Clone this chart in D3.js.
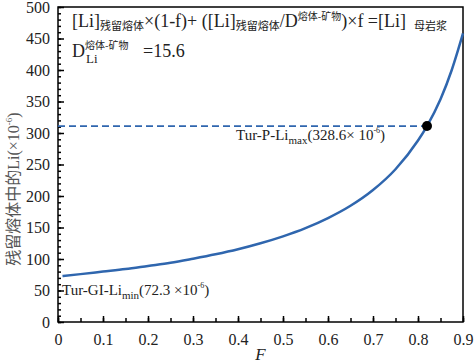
<!DOCTYPE html>
<html>
<head>
<meta charset="utf-8">
<script src="https://cdn.jsdelivr.net/npm/d3@7"></script>
<style>
  body { margin: 0; background: #fff; }
  svg text { font-family: "Liberation Serif", "Times New Roman", serif; }
  svg .cn { font-family: "Noto Sans CJK SC", sans-serif; }
</style>
</head>
<body>
<div id="chart"></div>
<script>
// curve
const fValues = [0.01, 0.05, 0.1, 0.15, 0.2, 0.25, 0.3, 0.35, 0.4, 0.45, 0.5, 0.55, 0.6, 0.65, 0.7, 0.75, 0.8, 0.82, 0.85, 0.875, 0.9];
const liValues = [73, 76, 80, 84, 89, 94, 100.5, 107.5, 115.5, 125, 136, 149, 165, 184.5, 209.5, 242.5, 288, 311, 353.5, 400, 458];
const maxPoint = { f: 0.82, li: 311 };
const xTicks = [0, 0.1, 0.2, 0.3, 0.4, 0.5, 0.6, 0.7, 0.8, 0.9];
const yTicks = [0, 50, 100, 150, 200, 250, 300, 350, 400, 450, 500];

const width = 474, height = 364;
const margin = { top: 7, right: 11, bottom: 42, left: 58 };
const blue = "#2f66ae";
const serif = "Liberation Serif";

const svg = d3.select("#chart").append("svg")
  .attr("width", width)
  .attr("height", height);

const x = d3.scaleLinear().domain([0, 0.9]).range([margin.left, width - margin.right]);
const y = d3.scaleLinear().domain([0, 500]).range([height - margin.bottom, margin.top]);

// frame
svg.append("rect")
  .attr("x", x(0)).attr("y", y(500))
  .attr("width", x(0.9) - x(0)).attr("height", y(0) - y(500))
  .attr("fill", "none").attr("stroke", "#000").attr("stroke-width", 1.5);

// x axis, ticks pointing inward
const xMinor = d3.range(0, 0.901, 0.05);
svg.append("g")
  .attr("transform", `translate(0,${y(0)})`)
  .call(d3.axisBottom(x).tickValues(xMinor).tickSize(-4).tickFormat(""))
  .call(g => g.select(".domain").remove());
svg.append("g")
  .attr("transform", `translate(0,${y(0)})`)
  .call(d3.axisBottom(x).tickValues(xTicks).tickSize(-6).tickPadding(12)
    .tickFormat(d => d === 0 ? "0" : d3.format(".1f")(d)))
  .attr("font-family", serif).attr("font-size", 16)
  .call(g => g.select(".domain").remove())
  .call(g => g.selectAll("text").attr("fill", "#222"));

// y axis
const yMinor = d3.range(0, 501, 10);
svg.append("g")
  .attr("transform", `translate(${x(0)},0)`)
  .call(d3.axisLeft(y).tickValues(yMinor).tickSize(-3).tickFormat(""))
  .call(g => g.select(".domain").remove());
svg.append("g")
  .attr("transform", `translate(${x(0)},0)`)
  .call(d3.axisLeft(y).tickValues(yTicks).tickSize(-6).tickPadding(8))
  .attr("font-family", serif).attr("font-size", 16)
  .call(g => g.select(".domain").remove())
  .call(g => g.selectAll("text").attr("fill", "#222"));
svg.selectAll(".tick line").attr("stroke", "#000").attr("stroke-width", 1.5);

// dashed level line to max point
svg.append("line")
  .attr("x1", x(0)).attr("x2", x(maxPoint.f))
  .attr("y1", y(maxPoint.li)).attr("y2", y(maxPoint.li))
  .attr("stroke", blue).attr("stroke-width", 1.8).attr("stroke-dasharray", "7,4");

// curve
const line = d3.line().x((d, i) => x(fValues[i])).y(d => y(d)).curve(d3.curveMonotoneX);
svg.append("path")
  .datum(liValues)
  .attr("d", line)
  .attr("fill", "none").attr("stroke", blue).attr("stroke-width", 2.5);

svg.append("circle")
  .attr("cx", x(maxPoint.f)).attr("cy", y(maxPoint.li)).attr("r", 5).attr("fill", "#000");

// formula text
const f1 = svg.append("text").attr("x", 72).attr("y", 27).attr("font-size", 18).attr("fill", "#222");
f1.append("tspan").text("[Li]");
f1.append("tspan").attr("class", "cn").attr("font-size", 11).attr("dy", 3).text("残留熔体");
f1.append("tspan").attr("dy", -3).text("×(1-f)+ ([Li]");
f1.append("tspan").attr("class", "cn").attr("font-size", 11).attr("dy", 3).text("残留熔体");
f1.append("tspan").attr("dy", -3).text("/D");
f1.append("tspan").attr("class", "cn").attr("font-size", 10).attr("dy", -7).text("熔体-矿物");
f1.append("tspan").attr("dy", 7).text(")×f =[Li]");
f1.append("tspan").attr("class", "cn").attr("font-size", 11).attr("dx", 8).attr("dy", 3).text("母岩浆");

const f2 = svg.append("text").attr("x", 72).attr("y", 57).attr("font-size", 18).attr("fill", "#222");
f2.append("tspan").text("D");
f2.append("tspan").attr("class", "cn").attr("font-size", 10).attr("dy", -8).text("熔体-矿物");
f2.append("tspan").attr("font-size", 13).attr("x", 86).attr("dy", 14).text("Li");
f2.append("tspan").attr("x", 143).attr("dy", -6).text("=15.6");

// annotations
const a1 = svg.append("text").attr("x", 236).attr("y", 140).attr("font-size", 15).attr("fill", "#222");
a1.append("tspan").text("Tur-P-Li");
a1.append("tspan").attr("font-size", 11).attr("dy", 4).text("max");
a1.append("tspan").attr("dy", -4).text("(328.6× 10");
a1.append("tspan").attr("font-size", 8).attr("dy", -7).text("-6");
a1.append("tspan").attr("dy", 7).text(")");

const a2 = svg.append("text").attr("x", 62).attr("y", 295).attr("font-size", 15).attr("fill", "#222");
a2.append("tspan").text("Tur-GI-Li");
a2.append("tspan").attr("font-size", 11).attr("dy", 4).text("min");
a2.append("tspan").attr("dy", -4).text("(72.3 ×10");
a2.append("tspan").attr("font-size", 8).attr("dy", -7).text("-6");
a2.append("tspan").attr("dy", 7).text(")");

// axis titles
svg.append("text")
  .attr("x", x(0.45)).attr("y", 360).attr("text-anchor", "middle")
  .attr("font-size", 17).attr("font-style", "italic").attr("fill", "#222").text("F");

const yl = svg.append("text")
  .attr("transform", `translate(19,189) rotate(-90)`)
  .attr("text-anchor", "middle").attr("font-size", 16).attr("fill", "#555");
yl.append("tspan").attr("class", "cn").text("残留熔体中的");
yl.append("tspan").text("Li(×10");
yl.append("tspan").attr("font-size", 9).attr("dy", -7).text("-6");
yl.append("tspan").attr("dy", 7).text(")");
</script>
</body>
</html>
